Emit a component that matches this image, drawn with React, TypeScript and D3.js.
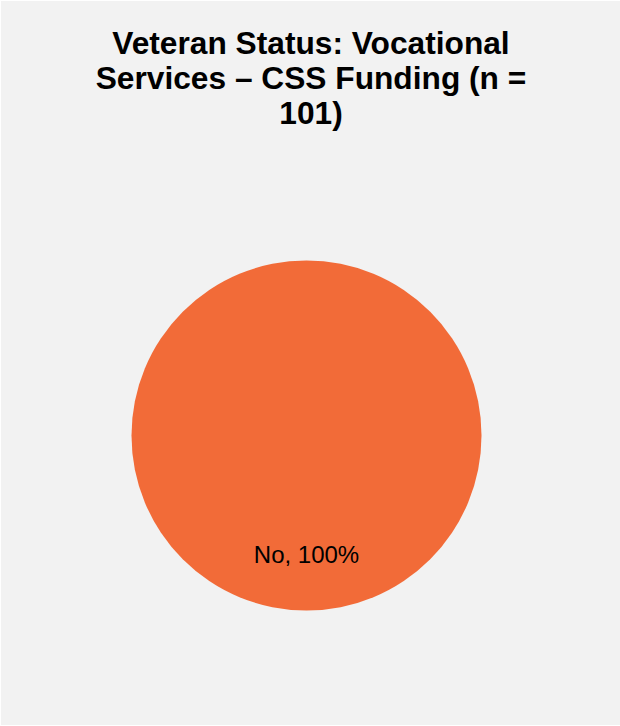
import React from "react";
import * as d3 from "d3";

const categories = ["No"];
const values = [101];
const percentLabels = ["100%"];
const titleLines = ["Veteran Status: Vocational", "Services – CSS Funding (n =", "101)"];
const colors = ["#F26B38"];

const W = 620;
const H = 726;

export default function App() {
  const cx = 306.5;
  const cy = 435.5;
  const r = 175;
  const pie = d3.pie<number>().sort(null).value((d) => d);
  const arcs = pie(values);
  const arc = d3.arc<d3.PieArcDatum<number>>().innerRadius(0).outerRadius(r);
  return (
    <svg
      width={W}
      height={H}
      style={{ position: "absolute", left: 0, top: 0 }}
      fontFamily="'Liberation Sans', Arial, sans-serif"
    >
      <rect x={0} y={0} width={W} height={H} fill="#ffffff" />
      <rect x={1} y={1} width={W - 1} height={H - 2} fill="#f2f2f2" />
      {titleLines.map((t, i) => (
        <text
          key={i}
          x={311}
          y={54 + i * 35}
          textAnchor="middle"
          fontSize={31.7}
          fontWeight="bold"
          fill="#000"
        >
          {t}
        </text>
      ))}
      <g transform={`translate(${cx},${cy})`}>
        {arcs.map((a, i) => (
          <path key={i} d={arc(a) || ""} fill={colors[i]} />
        ))}
        {arcs.map((a, i) => (
          <text
            key={"l" + i}
            x={0}
            y={127}
            textAnchor="middle"
            fontSize={24}
            fill="#000"
          >
            {`${categories[i]}, ${percentLabels[i]}`}
          </text>
        ))}
      </g>
    </svg>
  );
}
